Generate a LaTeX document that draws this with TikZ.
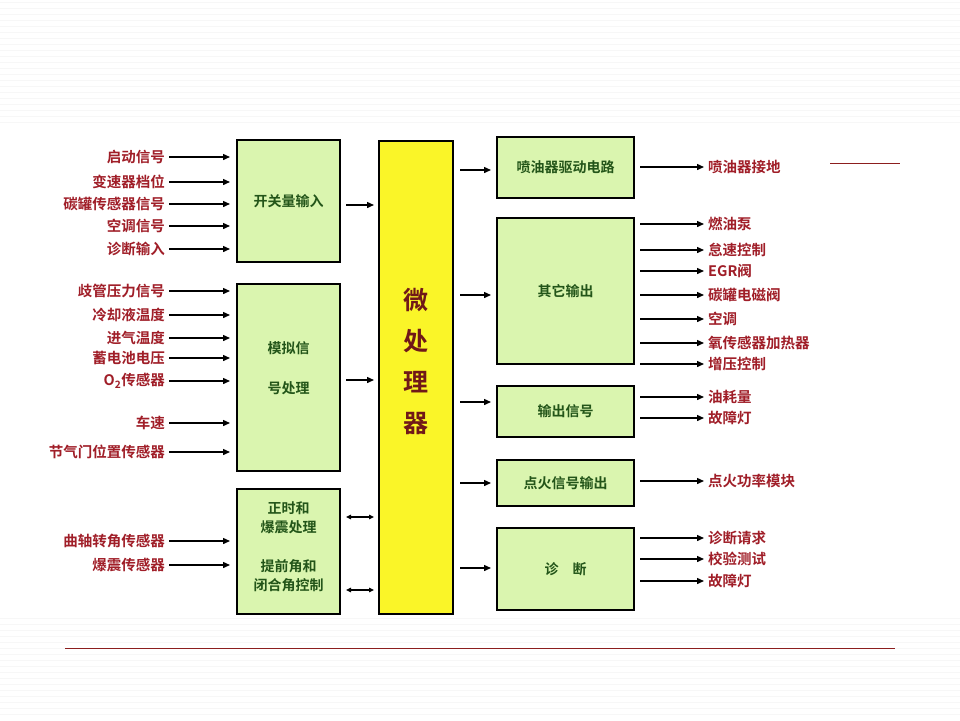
\documentclass[tikz,border=0pt]{standalone}
\usepackage{fontspec}
\setmainfont{Noto Sans CJK SC}[BoldFont={* Bold}]
\usetikzlibrary{arrows.meta}
\definecolor{lab}{RGB}{160,30,40}
\definecolor{gtxt}{RGB}{35,85,25}
\definecolor{gfill}{RGB}{218,245,175}
\definecolor{yel}{RGB}{250,245,40}
\definecolor{rline}{RGB}{140,30,30}
\begin{document}
\begin{tikzpicture}[x=1pt,y=-1pt,
 box/.style={draw=black,line width=2pt,fill=gfill,font=\fontsize{14}{17}\selectfont\bfseries,text=gtxt,align=center,inner sep=0pt},
 btxt/.style={text=gtxt,font=\fontsize{14}{19}\selectfont\bfseries,align=center},
 lab/.style={text=lab,font=\fontsize{14.5}{15}\selectfont\bfseries,inner sep=1pt},
 arr/.style={-{Triangle[length=7pt,width=6pt]},line width=1.4pt},
 darr/.style={{Triangle[length=5pt,width=4.5pt]}-{Triangle[length=5pt,width=4.5pt]},line width=1.1pt}]
\useasboundingbox (0,0) rectangle (960,720);
\fill[white] (0,0) rectangle (960,720);
\foreach \y in {2,8,...,126} \draw[black!3] (0,\y)--(960,\y);
\foreach \y in {618,624,...,718} \draw[black!3] (0,\y)--(960,\y);
\fill[white] (32,133) rectangle (830,615);
\draw[rline,line width=0.8pt] (830,163)--(900,163);
\draw[rline,line width=0.8pt] (65,648)--(895,648);
% boxes
\node[box,minimum width=103pt,minimum height=122pt] (b1) at (288.5,201) {开关量输入};
\node[box,minimum width=103pt,minimum height=187pt] (b2) at (288.5,377.5) {};
\node[btxt] at (288.5,348) {模拟信};
\node[btxt] (b2t) at (288.5,388) {号处理};
\node[box,minimum width=103pt,minimum height=125pt] (b3) at (288.5,551.5) {};
\node[btxt] at (288.5,518) {正时和\\爆震处理};
\node[btxt] at (288.5,576) {提前角和\\闭合角控制};
\node[box,fill=yel,minimum width=74pt,minimum height=473pt] (mp) at (416,377.5) {};
\node[text=rline!80!black,font=\fontsize{25}{41}\selectfont\bfseries,align=center] at (416,361) {微\\处\\理\\器};
\node[box,minimum width=137pt,minimum height=61pt] (o1) at (565.5,167.5) {喷油器驱动电路};
\node[box,minimum width=137pt,minimum height=146pt] (o2) at (565.5,291) {其它输出};
\node[box,minimum width=137pt,minimum height=51pt] (o3) at (565.5,411.5) {输出信号};
\node[box,minimum width=137pt,minimum height=46pt] (o4) at (565.5,483) {点火信号输出};
\node[box,minimum width=137pt,minimum height=82pt] (o5) at (565.5,569) {诊\quad 断};
% left inputs
\foreach \t/\y [count=\i] in {启动信号/157,变速器档位/182,碳罐传感器信号/204,空调信号/226,诊断输入/249,歧管压力信号/291,冷却液温度/315,进气温度/338,蓄电池电压/358,{O\textsubscript{2}传感器}/381,车速/423,节气门位置传感器/452,曲轴转角传感器/541,爆震传感器/565}{
 \node[lab,anchor=east] (in\i) at (166,\y) {\t};
 \coordinate (ie\i) at (230,\y);
 \draw[arr] (in\i.east) ++(3,0) -- (ie\i);
}
% to processor
\coordinate (m1) at (374,205); \coordinate (m2) at (374,380);
\draw[arr] (b1.east |- m1) ++(5,0) -- (m1);
\draw[arr] (b2.east |- m2) ++(5,0) -- (m2);
\coordinate (m3) at (374,517); \coordinate (m4) at (374,590);
\draw[darr] (b3.east |- m3) ++(5,0) -- (m3);
\draw[darr] (b3.east |- m4) ++(5,0) -- (m4);
\foreach \y/\o in {170/o1,295/o2,402/o3,483/o4,568/o5}{
 \coordinate (c\o) at (491,\y);
 \draw[arr] (mp.east |- c\o) ++(6,0) -- (c\o);
}
% right outputs
\foreach \t/\y [count=\i] in {喷油器接地/167,燃油泵/224,怠速控制/250,EGR阀/271,碳罐电磁阀/295,空调/319,氧传感器加热器/343,增压控制/364,油耗量/397,故障灯/418,点火功率模块/481,诊断请求/538,校验测试/559,故障灯/581}{
 \node[lab,anchor=west] (out\i) at (707,\y) {\t};
 \coordinate (os\i) at (640,\y);
 \draw[arr] (os\i) -- ([xshift=-3pt]out\i.west);
}
\end{tikzpicture}
\end{document}
